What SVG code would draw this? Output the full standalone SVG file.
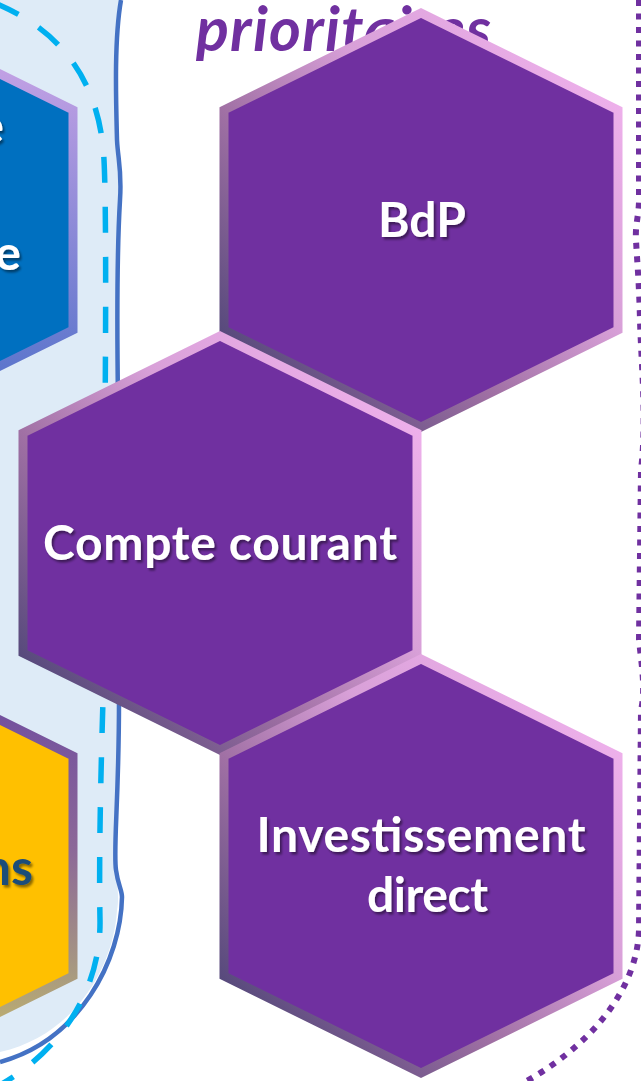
<svg xmlns="http://www.w3.org/2000/svg" width="641" height="1081" viewBox="0 0 641 1081">
<defs>
<linearGradient id="gPurple" x1="0" y1="1" x2="1" y2="0">
<stop offset="0" stop-color="#3a3a6c"/>
<stop offset="0.38" stop-color="#a070a4"/>
<stop offset="0.62" stop-color="#d8a0d8"/>
<stop offset="1" stop-color="#f6b6f2"/>
</linearGradient>
<linearGradient id="gBlue" x1="0" y1="0" x2="0" y2="1">
<stop offset="0" stop-color="#d4a8e8"/>
<stop offset="1" stop-color="#4a6ec8"/>
</linearGradient>
<linearGradient id="gYellow" x1="0" y1="0" x2="0" y2="1">
<stop offset="0" stop-color="#6a48a0"/>
<stop offset="0.46" stop-color="#8c6898"/>
<stop offset="0.76" stop-color="#a89a80"/>
<stop offset="1" stop-color="#d0c060"/>
</linearGradient>
<filter id="shadow" x="-10%" y="-20%" width="130%" height="160%">
<feDropShadow dx="2" dy="2.5" stdDeviation="1.3" flood-color="#000" flood-opacity="0.45"/>
</filter>
<path id="hex" d="M0,-207 L197,-110 L197,110 L0,207 L-197,110 L-197,-110 Z"/>
</defs>
<style>
.hexP { fill: #7030a0; stroke: url(#gPurple); stroke-width: 9; }
.hexB { fill: #0070c0; stroke: url(#gBlue); stroke-width: 9; }
.hexY { fill: #ffc000; stroke: url(#gYellow); stroke-width: 9; }
.lbl { font-family: Lato, "Open Sans", "Liberation Sans", sans-serif; font-weight: bold; font-size: 48px; fill: #ffffff; filter: url(#shadow); }
.lblDark { font-family: Lato, "Open Sans", "Liberation Sans", sans-serif; font-weight: bold; font-size: 50px; fill: #1f4e79; filter: url(#shadow); }
.title { font-family: Lato, "Open Sans", "Liberation Sans", sans-serif; font-weight: bold; font-style: italic; font-size: 61px; fill: #7030a0; }
.wave { fill: none; stroke: #4472c4; stroke-width: 4.5; }
.dash { fill: none; stroke: #00b0f0; stroke-width: 5.5; stroke-dasharray: 26 24; }
.dots { fill: none; stroke: #7030a0; stroke-width: 6; stroke-dasharray: 6 7.5; }
</style>

<g id="panel">
<path d="M0,0 L121,0 C114,40 116,100 117,140 C118,160 122,170 120,200 C117,250 117,330 118,400 L119,700 C119,800 113,850 116,875 C118,890 119,900 117,910 C114,965 76,1035 0,1052 Z" fill="#deebf7"/>
</g>

<g id="connectors">
<path class="wave" d="M121,0 C114,40 116,100 117,140 C118,160 122,170 120,200 C117,250 117,330 118,400 L119,700 C119,800 113,850 116,870 C118,885 122,890 122,897 C121,960 80,1040 0,1062"/>
<path class="dash" d="M-5,3 C60,30 100,80 104,160 C106,200 106,300 105,420 L103,700 C100,800 99,870 100,920 C101,980 70,1045 0,1085"/>
<path class="dots" d="M639,0 L639,200 C639,215 635,225 636,240 C637,260 639,280 640,320 C641,360 647,420 641,470 L639,640 C641,660 646,690 641,710 L639,930 C637,990 590,1050 510,1090"/>
</g>

<g id="node-blue">
<use href="#hex" class="hexB" transform="translate(-124,220)"/>
<text class="lbl" x="4" y="143" text-anchor="end" font-size="50">e</text>
<text class="lbl" x="21" y="270" text-anchor="end" font-size="50">e</text>
</g>

<g id="node-yellow">
<use href="#hex" class="hexY" transform="translate(-124,866)"/>
<text class="lblDark" x="33" y="885" text-anchor="end">ns</text>
</g>

<g id="title">
<text class="title" x="196" y="51" textLength="295">prioritaires</text>
</g>

<g id="node-bdp">
<use href="#hex" class="hexP" transform="translate(421,220)"/>
<text class="lbl" x="422" y="237" text-anchor="middle">BdP</text>
</g>

<g id="node-compte">
<use href="#hex" class="hexP" transform="translate(220,543)"/>
<text class="lbl" x="220" y="560" text-anchor="middle" textLength="354">Compte courant</text>
</g>

<g id="node-invest">
<use href="#hex" class="hexP" transform="translate(421,866)"/>
<text class="lbl" x="421" y="852" text-anchor="middle" textLength="329">Investissement</text>
<text class="lbl" x="427.5" y="912" text-anchor="middle" textLength="121">direct</text>
</g>
</svg>
